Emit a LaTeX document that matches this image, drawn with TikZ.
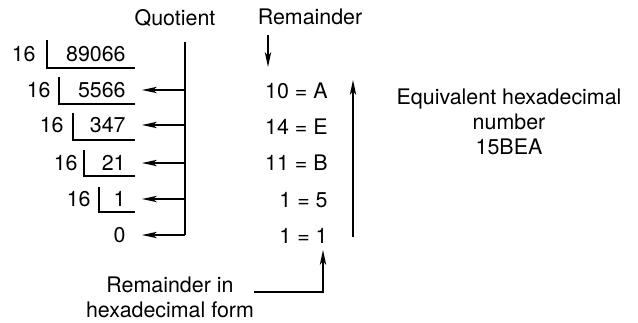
\documentclass[tikz,border=0pt]{standalone}
\usepackage{fontspec}
\setmainfont{TeX Gyre Heros}
\usetikzlibrary{arrows.meta}
\begin{document}
\begin{tikzpicture}[x=0.5pt,y=-0.5pt,
  font=\fontsize{10.7}{12.5}\selectfont,
  every node/.style={inner sep=0pt},
  ln/.style={line width=0.65pt},
  arr/.style={ln,-{Stealth[length=7.5pt,width=3.2pt,inset=2pt]}}]
\path[use as bounding box] (0,0) rectangle (638,322);
% headers
\node (qh) at (175,18) {Quotient};
\node (rh) at (310,17) {Remainder};
% divisors
\node[anchor=east] (d1) at (36,54) {16};
\node[anchor=east] (d2) at (51,90) {16};
\node[anchor=east] (d3) at (64,125) {16};
\node[anchor=east] (d4) at (78,163) {16};
\node[anchor=east] (d5) at (91,199) {16};
% dividends / quotients
\node[anchor=east] (n1) at (126,54) {89066};
\node[anchor=east] (n2) at (126,90) {5566};
\node[anchor=east] (n3) at (126,125) {347};
\node[anchor=east] (n4) at (126,163) {21};
\node[anchor=east] (n5) at (126,199) {1};
\node[anchor=east] (n6) at (126,235) {0};
% division brackets
\draw[ln] (47,40) -- (47,68) -- (135,68);
\draw[ln] (59,77) -- (59,104) -- (135,104);
\draw[ln] (73,113) -- (73,140) -- (135,140);
\draw[ln] (84,150) -- (84,176) -- (135,176);
\draw[ln] (99,187) -- (99,212) -- (135,212);
% quotient collector
\coordinate (vt) at (185,42);
\coordinate (vb) at (185,235);
\draw[ln] (vt) -- (vb);
\foreach \n in {n2,n3,n4,n5,n6}
  \draw[arr, shorten >=8pt] (vt |- \n.east) -- (\n.east);
% remainders
\node[anchor=east] (r1) at (328,91) {10 = A};
\node[anchor=east] (r2) at (328,127) {14 = E};
\node[anchor=east] (r3) at (328,163) {11 = B};
\node[anchor=east] (r4) at (328,200) {1 = 5};
\node[anchor=east] (r5) at (328,236) {1 = 1};
\coordinate (da) at (268,35);
\coordinate (db) at (268,67);
\draw[arr] (da) -- (db);
\coordinate (ub) at (353,237);
\coordinate (ut) at (353,80);
\draw[arr] (ub) -- (ut);
% equivalent
\node[align=center] (eq) at (509,122) {Equivalent hexadecimal\\number\\15BEA};
% bottom label
\node[align=center] (rin) at (170,297) {Remainder in\\hexadecimal form};
\coordinate (rt) at (323,250);
\draw[arr] ([yshift=2.5pt]rin.east) -| (rt);
\end{tikzpicture}
\end{document}
